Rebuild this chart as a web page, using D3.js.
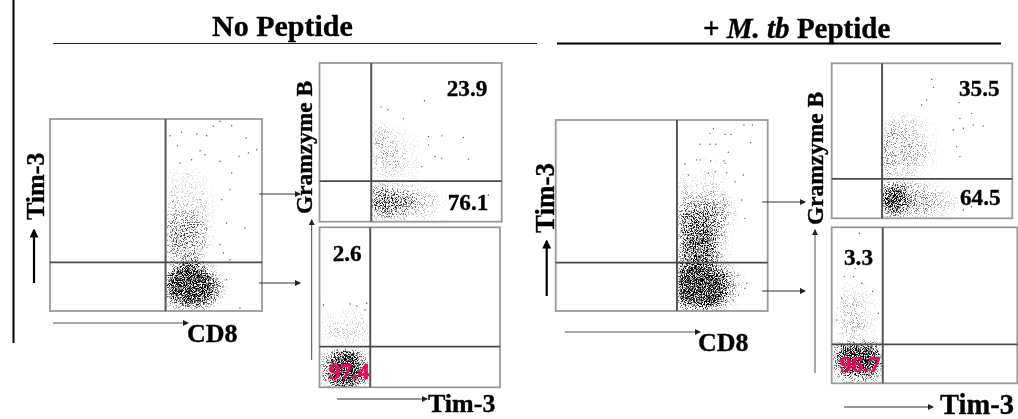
<!DOCTYPE html>
<html>
<head>
<meta charset="utf-8">
<script src="https://cdnjs.cloudflare.com/ajax/libs/d3/7.8.5/d3.min.js"></script>
<style>
    html, body { margin: 0; padding: 0; background: #fff; }
    svg { display: block; }
    text { font-family: "Liberation Serif", serif; font-weight: bold; fill: #000; stroke: #000; stroke-width: 0.35; }
</style>
</head>
<body>
<div id="chart"></div>
<script>
// gate positions, both axes run 0-100 inside each plot
const gatesA = [54.5, 25.3], gatesB = [28.4, 25.6], gatesC = [28.1, 25.4]
const gatesD = [57.2, 25.3], gatesE = [27.9, 25.4], gatesF = [27.5, 25.0]

// quadrant percentages as printed
const labelsB = ['23.9', '76.1'], labelsC = ['2.6', '97.4']
const labelsE = ['35.5', '64.5'], labelsF = ['3.3', '96.7']

// density, 0 = empty, 9 = solid. top row first
// extent is [xFrom, xTo, yTop, yBottom]
const extentA = [54.7, 88.7, 100, 0]
const densityA = [
    '000000000000', '000000000000', '000000000000', '000000000000',
    '000000000000', '000000000000', '000000000000', '000000000000',
    '110111000000', '111211100000', '121211100000', '121221110000',
    '222212210000', '232222110000', '232322210000', '233332210000',
    '344443210000', '454554310000', '455554310000', '455544210000',
    '455544310000', '454444210000', '344443100000', '234553100000',
    '246876321000', '479998631000', '799999974100', '899999985300',
    '799999985200', '689999964100', '356887642000', '123343210000'
]
const extentB = [28.8, 74.9, 67.2, 0]
const densityB = [
    '00000000000000', '11100000000000', '23211100000000', '23221110000000',
    '33321111000000', '23332211000000', '23332211000000', '23333211000000',
    '22233211000000', '22222111000000', '11111110000000', '12211111000000',
    '45543322111000', '56665543322100', '66676654332110', '67666543322100',
    '45554432221100', '22332211111000'
]
const extentC = [0.8, 27.4, 52.7, 0]
const densityC = [
    '10000100', '11011110', '12111122', '12222222', '12322222', '12222222', '01122111',
    '00111100', '24799742', '36999963', '47999974', '48999985', '47999974', '24688642'
]
const extentD = [57.7, 91.7, 100, 0]
const densityD = [
    '000000000000', '000000000000', '000000000000', '000000000000',
    '000000000000', '000000000000', '000010100000', '100010100000',
    '110111010000', '111112110000', '211212210000', '221223210000',
    '232333321000', '344444432000', '455555543100', '566666543100',
    '566676542100', '567776542100', '577786531000', '577787531000',
    '578887431000', '577787421000', '567776421000', '567886421000',
    '789986532100', '899999764210', '999999975310', '999999986320',
    '999999986310', '899999975210', '678999753100', '345665321000'
]
const extentE = [28.4, 78.2, 72.5, 0]
const densityE = [
    '000000000000000', '011211000000000', '122222110000000', '233332111000000',
    '343332211000000', '343332211000000', '443343321000000', '444334321100000',
    '443333321000000', '433333211000000', '432222111000000', '322221100000000',
    '111111000000000', '466543221100000', '788654332211000', '999755443322100',
    '998654443322100', '677544433221100', '344332221110000'
]
const extentF = [1.2, 27.1, 70.7, 0]
const densityF = [
    '00100000', '00110000', '01211100', '01211110', '12222110', '12332110',
    '12322110', '12332210', '12333210', '12333210', '12222110', '01111110',
    '46777763', '58999985', '69999996', '69999996', '47888874', '35666653', '23344332'
]

// single events outside the clouds
const pointsA = [[56.6,91.3],[62.1,93.1],[69.2,92.2],[73.9,91.3],[60.2,86.1],[70.8,83.5],[73.1,81.4],[92.5,90.1],
    [97.5,84],[93.6,82.3],[89.2,80.6],[77,96.2],[80.2,98.8],[85.7,96.5],[66.8,78.8],[61.3,77.1],[80.2,78],[85.7,71.9],
    [84.9,63.2],[81,58],[92,43.2],[83.3,45.8],[81.8,30.2],[80.2,34.5],[84.9,26.7],[83.3,16.3],[80.2,12.8],[89.6,1.6],
    [73.9,42.7],[70.8,58]]
const pointsB = [[33.8,72.2],[37.5,70.5],[57.6,76.2],[46.1,64.8],[79,53.1],[81.7,39.4],[63.4,41.1],[67.1,40],
    [67.1,54.1],[59.8,53.7],[59.8,48.4],[56.1,34.7],[92.7,16.8]]
const pointsC = [[2.2,51.5],[17,52.1],[20.7,50.8],[26.2,52.5],[25.3,48.3]]
const pointsD = [[74.4,95.6],[72.8,93],[79.9,92.5],[82.7,92.5],[88.8,97.4],[92.8,97.4],[92,88.1],[68.1,87.3],
    [72.8,87.3],[75.5,87.3],[81.4,83.1],[61,77],[66.5,79.1],[68.1,79.1],[73.1,78.5],[79.4,78.5],[79.9,77.3],[72,72.1],
    [75.2,72.9],[80.7,72.4],[84.6,67.7],[88.5,71.2],[87.7,58.1],[89.3,48.5],[86.2,18.8],[90.1,14.5],[89.3,11.9],
    [86.2,8.4],[83.8,5.8],[62.6,71.2]]
const pointsE = [[55.4,89.7],[56.3,84.5],[52.6,76.3],[49.8,73.1],[70.5,74.6],[77.5,67.7],[71,64.5],[78.4,60.2],
    [83.9,59.6],[72.9,58.1],[67.3,57],[69.2,46.2],[71,39.8],[77.5,7.5],[72.9,5.4]]
const pointsF = [[14.9,96.2],[12.6,73.7],[11.7,68.4],[6.8,68.4],[16.2,64.1],[22.1,58.8],[5.4,54.5],[25.1,44.9],[2.7,40.6]]

const plots = [
    { id: 'A', box: [50, 262, 119, 311], gates: gatesA, extent: extentA, density: densityA, points: pointsA },
    { id: 'B', box: [319.5, 501.7, 63, 221.7], gates: gatesB, extent: extentB, density: densityB, points: pointsB },
    { id: 'C', box: [319.5, 500, 227.3, 387.3], gates: gatesC, extent: extentC, density: densityC, points: pointsC },
    { id: 'D', box: [555.7, 767.7, 120, 311], gates: gatesD, extent: extentD, density: densityD, points: pointsD },
    { id: 'E', box: [831.7, 1012.3, 63.3, 218.3], gates: gatesE, extent: extentE, density: densityE, points: pointsE },
    { id: 'F', box: [831.7, 1017.3, 227.3, 383.3], gates: gatesF, extent: extentF, density: densityF, points: pointsF }
]

const svg = d3.select('#chart').append('svg').attr('width', 1018).attr('height', 419)
const defs = svg.append('defs')

// the density cells are dithered into speckle so they read like flow events
const grain = defs.append('filter').attr('id', 'grain')
    .attr('x', 0).attr('y', 0).attr('width', 1).attr('height', 1)
    .attr('color-interpolation-filters', 'sRGB')
grain.append('feGaussianBlur').attr('in', 'SourceGraphic').attr('stdDeviation', 2.4).attr('result', 'soft')
grain.append('feTurbulence').attr('type', 'fractalNoise').attr('baseFrequency', 0.9)
    .attr('numOctaves', 2).attr('seed', 4).attr('result', 'noise')
grain.append('feColorMatrix').attr('in', 'noise').attr('type', 'matrix')
    .attr('values', '0 0 0 0 0  0 0 0 0 0  0 0 0 0 0  3.5 0 0 0 -1.25').attr('result', 'mask')
grain.append('feComposite').attr('in', 'soft').attr('in2', 'mask').attr('operator', 'arithmetic')
    .attr('k1', 0).attr('k2', 1).attr('k3', 1).attr('k4', -1).attr('result', 'dots')
const gain = grain.append('feComponentTransfer').attr('in', 'dots').attr('result', 'hard')
gain.append('feFuncA').attr('type', 'linear').attr('slope', 1.5)
grain.append('feGaussianBlur').attr('in', 'hard').attr('stdDeviation', 0.35)

defs.append('filter').attr('id', 'soften').attr('x', 0).attr('y', 0).attr('width', 1).attr('height', 1)
    .append('feGaussianBlur').attr('stdDeviation', 0.4)

const addHead = (id, color, size) => {
    defs.append('marker').attr('id', id).attr('viewBox', '0 0 6 6').attr('refX', 5).attr('refY', 3)
        .attr('markerWidth', size).attr('markerHeight', size).attr('markerUnits', 'userSpaceOnUse')
        .attr('orient', 'auto')
        .append('path').attr('d', 'M0,0L6,3L0,6Z').attr('fill', color)
}
addHead('headThin', '#222', 6)
addHead('headThick', '#000', 9)

const root = svg.append('g').attr('filter', 'url(#soften)')
root.append('rect').attr('width', 1018).attr('height', 419).attr('fill', '#fff')

const shade = d3.scalePow().exponent(1.3).domain([0, 9]).range([0, 1])

plots.forEach(p => {
    const [x0, x1, y0, y1] = p.box
    const x = d3.scaleLinear().domain([0, 100]).range([x0, x1])
    const y = d3.scaleLinear().domain([0, 100]).range([y1, y0])

    defs.append('clipPath').attr('id', 'clip' + p.id)
        .append('rect').attr('x', x0).attr('y', y0).attr('width', x1 - x0).attr('height', y1 - y0)
    const g = root.append('g').attr('clip-path', `url(#clip${p.id})`)

    const col = d3.scaleBand().domain(d3.range(p.density[0].length)).range([x(p.extent[0]), x(p.extent[1])])
    const row = d3.scaleBand().domain(d3.range(p.density.length)).range([y(p.extent[2]), y(p.extent[3])])
    const cells = p.density.flatMap((r, i) => r.split('').map((c, j) => ({ i, j, v: +c })))
    g.append('g').attr('filter', 'url(#grain)')
        .selectAll('rect').data(cells.filter(d => d.v > 0)).enter().append('rect')
        .attr('x', d => col(d.j))
        .attr('y', d => row(d.i))
        .attr('width', col.bandwidth() + 0.5)
        .attr('height', row.bandwidth() + 0.5)
        .attr('fill', '#000')
        .attr('fill-opacity', d => shade(d.v))

    g.append('g').selectAll('circle').data(p.points).enter().append('circle')
        .attr('cx', d => x(d[0]))
        .attr('cy', d => y(d[1]))
        .attr('r', 0.7)
        .attr('fill', '#555')

    root.append('rect').attr('x', x0).attr('y', y0).attr('width', x1 - x0).attr('height', y1 - y0)
        .attr('fill', 'none').attr('stroke', '#999').attr('stroke-width', 1.8)
    root.append('line').attr('x1', x(p.gates[0])).attr('x2', x(p.gates[0])).attr('y1', y0).attr('y2', y1)
        .attr('stroke', '#555').attr('stroke-width', 2)
    root.append('line').attr('x1', x0).attr('x2', x1).attr('y1', y(p.gates[1])).attr('y2', y(p.gates[1]))
        .attr('stroke', '#4a4a4a').attr('stroke-width', 1.8)
})

const addText = (str, px, py, size, opts = {}) => {
    const t = root.append('text').attr('font-size', size).text(str)
    if (opts.rotate) t.attr('transform', `translate(${px},${py}) rotate(-90)`)
    else t.attr('x', px).attr('y', py)
    if (opts.color) t.style('fill', opts.color).style('stroke', opts.color).style('stroke-width', 0.7)
    return t
}
const addArrow = (x1, y1, x2, y2, head = 'headThin', width = 1, color = '#333') => {
    root.append('line').attr('x1', x1).attr('y1', y1).attr('x2', x2).attr('y2', y2)
        .attr('stroke', color).attr('stroke-width', width)
        .attr('marker-end', head ? `url(#${head})` : null)
}

// headers and the rule at far left
addArrow(13.5, 0, 13.5, 343, null, 2, '#000')
addText('No Peptide', 212, 36, 30)
addArrow(53, 43.5, 537, 43.5, null, 1, '#222')
const rightTitle = addText('+ ', 703, 38, 29)
rightTitle.append('tspan').style('font-style', 'italic').text('M. tb')
rightTitle.append('tspan').text(' Peptide')
addArrow(557, 43.5, 1001, 43.5, null, 2, '#000')

// left side
addText('Tim-3', 44, 220, 26, { rotate: true })
addArrow(34, 283, 34, 230, 'headThick', 2.2, '#000')
addArrow(53, 323, 188, 323, 'headThin', 1, '#555')
addText('CD8', 187, 342, 26)
addArrow(259, 194, 300, 194)
addArrow(259, 283, 300, 283)
addText('Gramzyme B', 312, 214, 23.4, { rotate: true })
addArrow(311.7, 360, 311.7, 220, 'headThin', 1, '#444')
addArrow(337, 399, 427, 399)
addText('Tim-3', 428, 412, 26)
addText(labelsB[0], 446.7, 96, 23.2)
addText(labelsB[1], 447.7, 210, 23.2)
addText(labelsC[0], 332.7, 261, 23.2)
addText(labelsC[1], 329, 379, 23.2, { color: '#f5005f' })

// right side
addText('Tim-3', 554, 233, 27, { rotate: true })
addArrow(546.7, 296, 546.7, 241, 'headThick', 2.2, '#000')
addArrow(565, 332, 700, 332, 'headThin', 1, '#555')
addText('CD8', 698, 351, 26)
addArrow(762, 202, 805, 202)
addArrow(762, 291, 805, 291)
addText('Gramzyme B', 823, 225, 23.4, { rotate: true })
addArrow(815, 373, 815, 230, 'headThin', 1, '#555')
addArrow(844, 407, 933, 407)
addText('Tim-3', 940, 414, 28.5)
addText(labelsE[0], 959, 96, 23.2)
addText(labelsE[1], 960, 205, 23.2)
addText(labelsF[0], 844, 265, 23.2)
addText(labelsF[1], 840, 372, 23.2, { color: '#f5005f' })
</script>
</body>
</html>
